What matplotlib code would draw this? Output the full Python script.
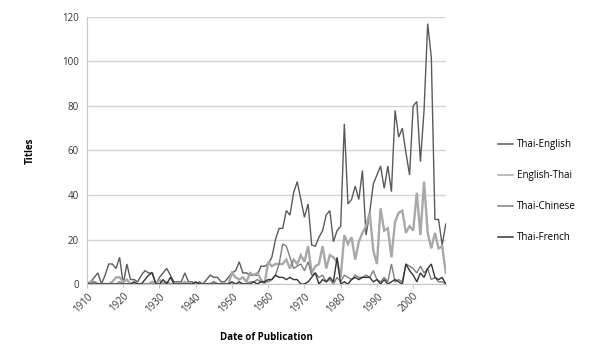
import matplotlib
matplotlib.use("Agg")
import matplotlib.pyplot as plt
import numpy as np

years = list(range(1910, 2010))

thai_english = [0, 1, 3, 5, 0, 4, 9, 9, 7, 12,
                0, 9, 2, 2, 1, 4, 6, 5, 5, 0,
                3, 5, 7, 4, 1, 1, 1, 5, 1, 1,
                0, 1, 0, 2, 4, 3, 3, 1, 1, 3,
                5, 6, 10, 5, 5, 4, 4, 4, 8, 8,
                9, 12, 20, 25, 25, 33, 31, 41, 46, 38,
                30, 36, 17.5, 17, 21, 24, 31, 33, 19, 24,
                26, 72, 36, 38, 44, 38, 51, 22, 32, 45,
                49, 53, 43, 53, 41.5, 78, 66, 70, 59, 49,
                80, 82, 55, 78, 117, 102, 29, 29, 17.5, 27]

english_thai = [0, 1, 1, 0, 0, 0, 0, 1, 3, 3,
                1, 2, 0, 0, 0, 0, 0, 0, 1, 0,
                2, 0, 1, 0, 0, 0, 0, 1, 0, 0,
                0, 0, 0, 0, 0, 1, 0, 0, 0, 0,
                5, 3, 2, 3, 1, 5, 4, 5, 2, 0,
                10, 8, 9, 9, 9, 11, 7, 11, 9, 13,
                10, 17, 5, 8, 9, 17, 7, 13, 12, 10,
                3, 22, 18, 21, 11, 19, 23, 26, 32, 15,
                9, 34, 24, 25, 12, 28, 32, 33, 23, 26,
                24, 41, 22, 46, 23, 16, 23, 16, 17, 5]

thai_chinese = [1, 0, 1, 0, 0, 0, 0, 0, 0, 1,
                0, 0, 0, 0, 0, 0, 0, 0, 0, 0,
                0, 0, 0, 0, 0, 0, 0, 0, 0, 0,
                0, 0, 0, 0, 0, 1, 0, 0, 0, 0,
                0, 0, 0, 0, 0, 1, 1, 2, 1, 1,
                1, 2, 4, 9, 18, 17, 12, 7, 8, 9,
                6, 10, 4, 5, 3, 4, 1, 2, 0, 3,
                1, 4, 3, 2, 4, 3, 3, 4, 3, 6,
                2, 1, 3, 1, 9, 1, 2, 1, 9, 8,
                7, 5, 8, 5, 7, 2, 3, 1, 1, 0]

thai_french = [0, 0, 0, 0, 0, 0, 0, 0, 0, 0,
               0, 0, 0, 1, 0, 0, 2, 4, 5, 0,
               0, 2, 0, 3, 0, 0, 0, 0, 0, 0,
               1, 0, 0, 0, 0, 0, 0, 0, 0, 0,
               1, 0, 1, 0, 0, 0, 1, 0, 1, 1,
               2, 2, 4, 3, 3, 2, 3, 2, 2, 0,
               0, 1, 3, 5, 0, 2, 1, 3, 1, 12,
               0, 1, 0, 2, 3, 2, 3, 3, 3, 1,
               2, 0, 2, 0, 1, 2, 1, 0, 9, 6,
               4, 1, 5, 3, 7, 9, 3, 2, 3, 0]

series_names = ["Thai-English", "English-Thai", "Thai-Chinese", "Thai-French"]
series_values = [thai_english, english_thai, thai_chinese, thai_french]
colors = ["#5a5a5a", "#a8a8a8", "#7e7e7e", "#333333"]
widths = [1.0, 1.7, 1.0, 1.0]

y_ticks = [0, 20, 40, 60, 80, 100, 120]
x_tick_labels = [1910, 1920, 1930, 1940, 1950, 1960, 1970, 1980, 1990, 2000]

plt.rcParams['font.family'] = ['Open Sans', 'DejaVu Sans']

fig = plt.figure(figsize=(6, 3.6), dpi=100)
ax = fig.add_axes([0.145, 0.211, 0.598, 0.742])

for name, vals, c, w in zip(series_names, series_values, colors, widths):
    ax.plot(years, vals, color=c, lw=w, label=name, solid_joinstyle='miter')

ax.set_xlim(1910, 2009)
ax.set_ylim(0, 120)
ax.set_yticks(y_ticks)
ax.set_yticklabels([str(v) for v in y_ticks], fontsize=7)
ax.set_xticks(x_tick_labels)
ax.set_xticklabels([str(v) for v in x_tick_labels], fontsize=7, rotation=45,
                   ha='right', rotation_mode='anchor')
ax.grid(axis='y', color='#d4d4d4', lw=1.0)
ax.set_axisbelow(True)
for s in ['top', 'right']:
    ax.spines[s].set_visible(False)
ax.spines['left'].set_color('#c8c8c8')
ax.spines['bottom'].set_color('#c8c8c8')
ax.tick_params(axis='y', length=0, pad=6, colors='#333333')
ax.tick_params(axis='x', length=3, color='#c8c8c8', pad=2, colors='#333333')
ax.tick_params(axis='x', color='#c8c8c8')

ax.set_ylabel("Titles", fontsize=7, fontweight='bold')
ax.yaxis.set_label_coords(-0.142, 0.5)
ax.set_xlabel("Date of Publication", fontsize=7, fontweight='bold')
ax.xaxis.set_label_coords(0.5, -0.18)

leg = fig.legend(loc='upper left', bbox_to_anchor=(0.815, 0.637), frameon=False,
                 fontsize=7, handlelength=1.6, handletextpad=0.35, labelspacing=2.05)
for ln in leg.get_lines():
    ln.set_linewidth(1.1)

fig.savefig("out.png", dpi=100)
